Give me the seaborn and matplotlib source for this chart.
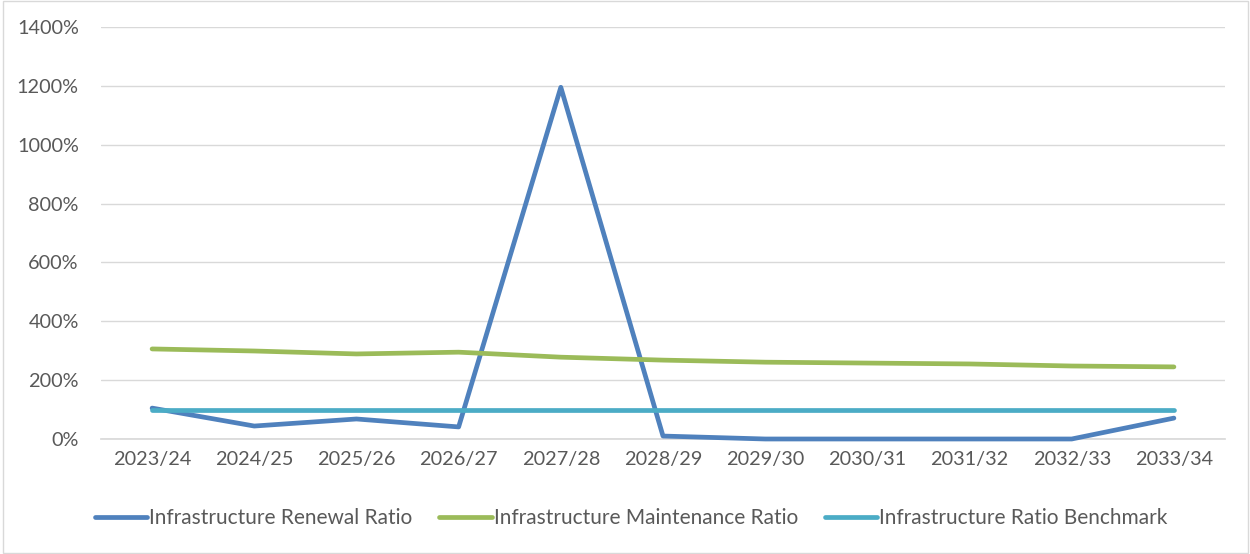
import matplotlib
matplotlib.use("Agg")
import matplotlib.pyplot as plt
import seaborn as sns
import pandas as pd
from matplotlib.patches import Rectangle
from matplotlib.ticker import FuncFormatter

years = ["2023/24", "2024/25", "2025/26", "2026/27", "2027/28", "2028/29",
         "2029/30", "2030/31", "2031/32", "2032/33", "2033/34"]
renewal = [105, 44, 68, 41, 1195, 10, 0, 0, 0, 0, 71]
maintenance = [306, 299, 289, 295, 278, 268, 261, 258, 255, 248, 245]
benchmark = [100, 100, 100, 100, 100, 100, 100, 100, 100, 100, 100]

names = ["Infrastructure Renewal Ratio", "Infrastructure Maintenance Ratio",
         "Infrastructure Ratio Benchmark"]
colors = ["#4F81BD", "#9BBB59", "#4BACC6"]

rows = []
for name, vals in zip(names, [renewal, maintenance, benchmark]):
    for i, (y, v) in enumerate(zip(years, vals)):
        rows.append({"Year": y, "idx": i, "Value": v, "Series": name})
df = pd.DataFrame(rows)

sns.set_theme(style="white")
plt.rcParams["font.family"] = ["Lato", "DejaVu Sans"]

fig = plt.figure(figsize=(12.5, 5.54), dpi=100)
ax = fig.add_axes([0.0808, 0.2076, 0.8992, 0.7437])

sns.lineplot(data=df, x="idx", y="Value", hue="Series", palette=colors,
             hue_order=names, linewidth=3.4, ax=ax, legend=True,
             solid_capstyle="round", sort=False)
for ln in ax.lines:
    ln.set_clip_on(False)
    ln.set_zorder(3)

ax.set_xlim(-0.5, len(years) - 0.5)
ax.set_ylim(0, 1400)
ax.set_yticks(range(0, 1401, 200))
ax.yaxis.set_major_formatter(FuncFormatter(lambda v, p: f"{int(v)}%"))
ax.set_xticks(range(len(years)))
ax.set_xticklabels(years)
ax.set_xlabel("")
ax.set_ylabel("")
ax.grid(axis="y", color="#D9D9D9", linewidth=1)
ax.set_axisbelow(True)
for s in ["top", "right", "left"]:
    ax.spines[s].set_visible(False)
ax.spines["bottom"].set_color("#D9D9D9")
ax.spines["bottom"].set_zorder(1)
ax.tick_params(axis="both", length=0, labelsize=14.3, colors="#595959", pad=9)
ax.tick_params(axis="y", pad=16)

handles, labels = ax.get_legend_handles_labels()
ax.get_legend().remove()
fig.legend(handles, labels, loc="center", bbox_to_anchor=(0.505, 0.065),
           ncol=3, frameon=False, fontsize=15, handlelength=2.5,
           handletextpad=0.1, columnspacing=1.3, labelcolor="#595959")

fig.patches.append(Rectangle((0.002, 0.002), 0.996, 0.996, transform=fig.transFigure,
                             fill=False, edgecolor="#D9D9D9", linewidth=1))

fig.savefig("out.png", dpi=100)
